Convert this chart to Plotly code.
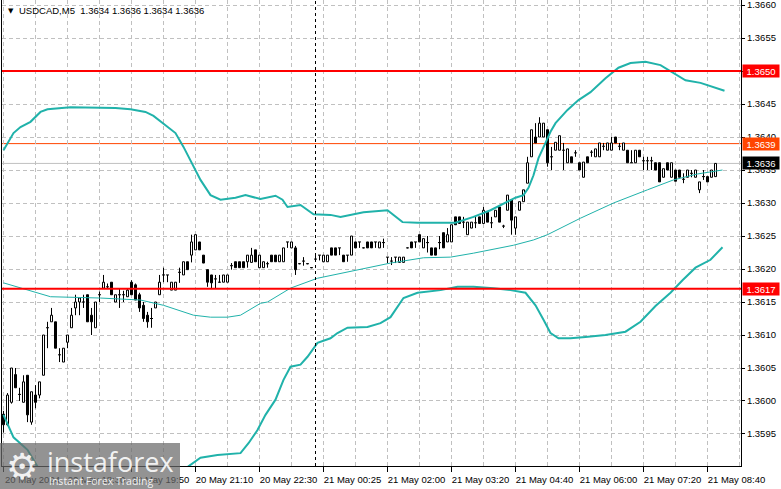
import plotly.graph_objects as go

# ---------------- data (prices expressed in pips above 1.3600) ----------------
BASE = 1.3600
PIP = 0.0001

open_pips = [
    -2.0, -3.6, -0.2, 4.0, 1.0, -0.2, 3.9, -3.2, 0.9, 0.9,
    3.9, 11.1, 12.0, 12.0, 7.0, 5.9, 8.9, 11.1, 14.1, 15.0,
    15.0, 16.1, 13.0, 11.1, 16.1, 17.1, 17.3, 18.0, 15.0, 16.1,
    16.1, 15.8, 18.0, 17.6, 16.1, 14.5, 13.0, 12.5, 14.1, 16.1,
    19.1, 19.1, 16.8, 16.8, 19.5, 19.1, 21.1, 22.1, 22.9, 24.1,
    22.1, 19.9, 19.1, 18.5, 18.0, 18.0, 18.0, 20.5, 21.1, 21.1,
    21.1, 21.1, 21.0, 22.9, 20.2, 20.2, 20.8, 22.1, 22.1, 21.1,
    21.1, 24.1, 23.2, 23.2, 20.8, 21.2, 20.8, 20.2, 21.5, 22.1,
    21.1, 21.1, 23.2, 23.2, 23.2, 22.1, 22.1, 22.1, 24.1, 24.1,
    23.2, 24.1, 24.1, 24.1, 23.2, 24.0, 21.8, 21.2, 21.8, 21.0,
    21.0, 23.2, 24.1, 24.1, 25.2, 23.2, 24.0, 23.2, 23.2, 24.0,
    25.5, 24.1, 24.1, 27.9, 27.9, 27.1, 25.2, 26.2, 27.0, 27.9,
    26.9, 28.6, 27.0, 27.9, 29.4, 26.5, 28.9, 30.5, 26.2, 28.9,
    30.2, 33.0, 37.0, 40.0, 40.0, 40.0, 41.1, 37.0, 38.0, 38.0,
    38.0, 36.1, 37.0, 37.6, 36.1, 33.9, 37.0, 37.7, 37.0, 37.0,
    38.6, 38.0, 38.0, 40.0, 38.6, 38.0, 38.0, 36.1, 36.1, 38.0,
    36.4, 36.4, 36.4, 36.1, 36.1, 33.9, 36.1, 33.9, 35.0, 35.0,
    33.6, 33.9, 34.5, 33.9, 32.0, 34.0, 34.0, 33.9, 34.0,
]
high_pips = [
    -1.5, 1.2, 5.0, 5.0, 2.0, 3.9, 3.9, 1.4, 2.4, 2.9,
    10.0, 12.0, 14.1, 12.0, 8.0, 8.0, 10.0, 14.1, 16.1, 15.6,
    16.1, 16.1, 14.1, 15.0, 16.6, 19.1, 17.8, 18.0, 16.1, 17.1,
    16.7, 17.1, 18.3, 17.8, 16.4, 15.0, 13.5, 14.1, 15.0, 19.1,
    20.2, 19.1, 18.0, 18.0, 20.2, 21.1, 21.1, 25.2, 25.2, 24.1,
    22.1, 19.9, 19.1, 19.1, 19.1, 19.1, 19.1, 20.9, 21.1, 21.1,
    21.1, 22.1, 23.2, 22.9, 22.1, 21.1, 21.1, 22.1, 22.1, 22.1,
    23.2, 24.1, 24.1, 23.5, 20.9, 21.8, 20.9, 20.3, 22.1, 22.1,
    22.1, 22.1, 23.2, 23.2, 23.2, 22.1, 22.1, 25.0, 24.1, 24.1,
    23.3, 24.1, 24.1, 24.1, 24.1, 24.6, 21.8, 21.8, 21.8, 21.8,
    21.8, 23.3, 24.1, 24.1, 25.2, 24.6, 25.0, 23.2, 23.2, 25.0,
    25.5, 26.2, 26.7, 27.9, 27.9, 27.9, 27.1, 27.1, 27.9, 27.9,
    29.4, 28.6, 27.9, 28.9, 29.4, 26.7, 31.2, 30.5, 27.9, 30.2,
    32.0, 37.0, 41.1, 42.1, 43.0, 42.1, 41.1, 38.5, 39.2, 40.2,
    39.1, 38.2, 37.0, 38.0, 36.1, 36.2, 37.0, 38.0, 38.2, 39.1,
    39.1, 39.1, 40.0, 40.0, 39.1, 39.1, 38.0, 38.0, 38.0, 38.0,
    37.0, 37.0, 37.0, 36.1, 36.1, 35.2, 36.1, 36.1, 35.0, 35.0,
    34.5, 35.0, 35.0, 35.0, 33.2, 35.0, 34.0, 35.0, 36.0,
]
low_pips = [
    -4.8, -3.8, -0.4, 2.0, 0.0, -0.2, -3.2, -3.6, -1.1, 0.4,
    3.9, 8.0, 12.0, 8.0, 5.9, 5.9, 8.0, 11.1, 13.0, 13.0,
    14.1, 12.0, 10.0, 11.1, 15.0, 17.1, 17.0, 16.1, 15.0, 14.1,
    15.0, 15.8, 16.1, 15.3, 13.5, 12.0, 11.1, 11.1, 14.1, 16.1,
    18.0, 18.0, 16.8, 16.8, 17.9, 19.1, 19.9, 21.0, 22.9, 22.9,
    20.9, 17.3, 17.1, 17.1, 17.9, 18.0, 18.0, 19.9, 20.2, 20.2,
    20.2, 20.2, 21.0, 21.1, 20.2, 20.2, 20.2, 21.1, 21.1, 21.1,
    21.1, 23.2, 23.2, 19.1, 20.7, 20.5, 20.7, 20.1, 21.1, 21.3,
    21.1, 21.1, 22.1, 22.1, 22.1, 21.1, 21.1, 22.1, 23.2, 23.2,
    23.1, 23.2, 23.2, 23.2, 23.2, 23.2, 20.9, 20.6, 20.9, 21.0,
    21.0, 23.1, 23.2, 23.2, 24.1, 23.2, 22.5, 22.1, 22.1, 23.0,
    23.2, 24.1, 24.1, 26.7, 26.9, 26.2, 25.2, 26.2, 26.2, 26.9,
    26.9, 27.1, 26.2, 27.9, 27.1, 26.2, 28.9, 25.2, 25.2, 28.9,
    30.2, 33.0, 37.0, 39.1, 40.0, 40.0, 35.5, 35.0, 38.0, 38.0,
    35.0, 36.1, 36.1, 37.0, 35.0, 33.9, 36.1, 37.0, 37.0, 37.0,
    38.0, 38.0, 38.0, 39.1, 38.0, 38.0, 36.1, 36.1, 36.1, 37.0,
    35.0, 35.0, 35.0, 35.0, 33.2, 33.9, 35.0, 33.9, 33.3, 33.9,
    33.0, 33.9, 33.9, 33.9, 31.5, 33.5, 33.2, 33.9, 34.0,
]
close_pips = [
    -3.6, 0.9, 5.0, 2.0, 1.0, 2.9, -2.1, 1.4, -0.2, 2.9,
    10.0, 11.1, 13.0, 8.0, 7.0, 8.0, 10.0, 13.0, 15.0, 15.6,
    15.0, 12.0, 12.0, 15.0, 16.1, 18.0, 17.3, 16.1, 16.1, 16.1,
    16.1, 16.8, 16.1, 15.3, 14.1, 12.5, 12.0, 12.5, 15.0, 18.0,
    19.1, 19.1, 18.0, 18.0, 19.5, 21.1, 19.9, 24.1, 25.2, 22.9,
    20.9, 18.0, 17.9, 18.5, 18.0, 19.1, 19.1, 20.5, 20.2, 20.2,
    20.2, 22.1, 22.1, 21.1, 22.1, 21.1, 20.8, 21.1, 21.1, 22.1,
    23.2, 24.1, 24.1, 19.9, 20.8, 21.2, 20.8, 20.2, 21.5, 22.1,
    22.1, 22.1, 22.1, 22.1, 23.2, 21.1, 22.1, 25.0, 23.2, 24.1,
    23.2, 23.2, 23.2, 24.1, 24.1, 24.0, 21.8, 21.2, 21.8, 21.8,
    21.8, 23.2, 23.2, 24.1, 24.1, 24.6, 24.0, 22.1, 22.1, 24.0,
    23.2, 25.2, 26.7, 26.7, 26.9, 27.1, 27.1, 27.1, 27.0, 26.9,
    28.9, 27.1, 27.0, 28.9, 27.1, 26.5, 31.2, 27.4, 27.9, 30.2,
    32.0, 36.1, 41.1, 39.1, 42.1, 42.1, 36.1, 37.0, 39.2, 40.2,
    38.0, 38.2, 36.1, 37.6, 35.0, 36.2, 36.1, 37.7, 38.2, 39.1,
    38.6, 39.1, 39.1, 39.1, 38.6, 39.1, 36.1, 36.1, 38.0, 37.0,
    36.4, 36.4, 36.4, 35.0, 33.2, 35.2, 35.0, 36.1, 33.3, 33.9,
    33.6, 35.0, 34.5, 35.0, 33.2, 34.0, 33.2, 35.0, 36.0,
]

# Bollinger upper band (bar index, pips)
upper_idx = [0, 2.5, 4.25, 6.75, 9.25, 11, 16.75, 24.25, 28, 31.75, 35.5, 37.5, 41, 43, 45,
             46.75, 49.25, 51.75, 54.25, 58, 60.5, 64.25, 68, 69.75, 71, 74.25, 77.5, 81.75,
             84.25, 90, 96, 99.75, 103.5, 113, 117.5, 121.75, 126, 128, 130, 131.25, 132.5,
             133.75, 135.5, 136.75, 138, 141, 143.75, 146.75, 150.5, 153.75, 156.75, 160.5,
             164.25, 167.25, 170.5, 174.25, 178, 180.25]
upper_pips = [38.0, 40.6, 41.5, 42.3, 43.8, 44.2, 44.5, 44.5, 44.4, 44.2, 43.8, 43.2, 41.5, 40.6,
              38.5, 36.5, 33.5, 31.2, 30.5, 30.8, 31.2, 30.6, 31.1, 30.5, 29.4, 29.7, 28.3, 28.2,
              27.9, 28.6, 28.9, 27.1, 27.0, 27.0, 27.9, 28.9, 30.2, 30.8, 31.2, 32.3, 34.2,
              36.8, 39.1, 40.8, 42.1, 44.1, 45.6, 46.8, 48.9, 50.5, 51.2, 51.4,
              50.9, 49.8, 48.6, 48.2, 47.4, 47.0]

# Bollinger lower band (bar index, pips)
lower_idx = [0, 2.5, 6, 8.5, 12, 18, 28, 38, 44, 46, 49.25, 53.5, 59.25, 61.25, 63.5, 65.5, 68,
             70, 71.75, 74.25, 76, 78.5, 81.75, 83.5, 86, 91, 94.25, 96.75, 98.5, 100, 103.5,
             109.25, 113.5, 117.5, 122.5, 126.75, 130.5, 133, 135, 136.75, 138.75, 141.75,
             145.5, 150.5, 155.5, 159.25, 163, 166.75, 169.75, 173, 176.75, 179.75]
lower_pips = [-2.1, -5.5, -7.4, -10.0, -13.5, -17.0, -19.0, -17.0, -13.0, -10.0, -8.6, -8.2, -7.9,
              -6.4, -4.4, -2.1, 0.2, 3.2, 5.2, 5.5, 6.7, 8.8, 9.5, 10.3, 11.1, 11.2, 11.8, 12.7,
              14.2, 15.6, 16.4, 16.8, 17.3, 17.3, 17.1, 16.8, 16.4, 14.5, 12.3, 10.3, 9.5, 9.5,
              9.7, 10.0, 10.5, 12.0, 14.4, 16.4, 18.3, 20.2, 21.4, 23.3]

# middle line (thin)
mid_idx = [0, 3.5, 7.5, 11.75, 24.25, 34.25, 40, 47.5, 51.75, 56, 59.25, 64.25, 66, 71.75, 78.5,
           88.5, 96.75, 105, 111.75, 117.5, 124.25, 127.5, 132.5, 136, 144.25, 152.5, 161,
           167.5, 173.5, 179.75]
mid_pips = [17.9, 17.3, 16.5, 15.8, 15.6, 15.3, 14.5, 13.0, 12.7, 12.7, 13.0, 14.8, 15.0, 17.1,
            18.6, 19.8, 20.9, 21.7, 21.8, 22.4, 23.2, 23.6, 24.4, 25.2, 27.7, 30.0, 32.0, 33.5,
            34.4, 35.0]

tick_idx = [0, 16, 32, 48, 64, 80, 96, 112, 128, 144, 160, 176]
tick_text = ["20 May 2024", "20 May 18:30", "20 May 19:50", "20 May 21:10", "20 May 22:30",
             "21 May 00:25", "21 May 02:00", "21 May 03:20", "21 May 04:40", "21 May 06:00",
             "21 May 07:20", "21 May 08:40"]
grid_idx = [8 + 16 * k for k in range(12)]
y_ticks = [1.3595, 1.3600, 1.3605, 1.3610, 1.3615, 1.3620, 1.3625, 1.3630, 1.3635, 1.3640,
           1.3645, 1.3650, 1.3655, 1.3660]

separator_idx = 78
red_levels = [1.3650, 1.3617]
orange_level = 1.3639
bid_level = 1.3636
header = "USDCAD,M5  1.3634 1.3636 1.3634 1.3636"

# ---------------- build ----------------
def px(p):
    return BASE + p * PIP

O = [px(v) for v in open_pips]
H = [px(v) for v in high_pips]
L = [px(v) for v in low_pips]
C = [px(v) for v in close_pips]
idx = list(range(len(O)))

body_x, body_base, body_h, body_col = [], [], [], []
doji_x, doji_y = [], []
wick_x, wick_y = [], []
for i in idx:
    top, bot = max(O[i], C[i]), min(O[i], C[i])
    if abs(C[i] - O[i]) < 1e-9:
        doji_x += [i - 0.375, i + 0.375, None]
        doji_y += [O[i], O[i], None]
    else:
        body_x.append(i)
        body_base.append(bot)
        body_h.append(top - bot)
        body_col.append("white" if C[i] > O[i] else "black")
    if H[i] > top + 1e-9:
        wick_x += [i, i, None]
        wick_y += [top, H[i], None]
    if L[i] < bot - 1e-9:
        wick_x += [i, i, None]
        wick_y += [bot, L[i], None]

TEAL = "#20b2aa"
FONT = "Liberation Sans"
fig = go.Figure()
fig.add_trace(go.Bar(x=body_x, y=body_h, base=body_base, width=0.5,
                     marker=dict(color=body_col, line=dict(color="black", width=1)),
                     hoverinfo="skip"))
fig.add_trace(go.Scatter(x=wick_x, y=wick_y, mode="lines",
                         line=dict(color="black", width=1), hoverinfo="skip"))
fig.add_trace(go.Scatter(x=doji_x, y=doji_y, mode="lines",
                         line=dict(color="black", width=1), hoverinfo="skip"))
fig.add_trace(go.Scatter(x=mid_idx, y=[px(v) for v in mid_pips], mode="lines",
                         line=dict(color=TEAL, width=1), hoverinfo="skip"))
fig.add_trace(go.Scatter(x=upper_idx, y=[px(v) for v in upper_pips], mode="lines",
                         line=dict(color=TEAL, width=2), hoverinfo="skip"))
fig.add_trace(go.Scatter(x=lower_idx, y=[px(v) for v in lower_pips], mode="lines",
                         line=dict(color=TEAL, width=2), hoverinfo="skip"))

W, Hh = 781, 489
ML, MR, MT, MB = 2, 40, 0, 23
PW, PH = W - ML - MR, Hh - MT - MB

def xp(p):
    return (p - ML) / PW

def yp(p):
    return (PH + MT - p) / PH

shapes = []
shapes.append(dict(type="line", xref="paper", yref="y", x0=0, x1=1, y0=bid_level, y1=bid_level,
                   line=dict(color="#c0c0c0", width=1), layer="below"))
shapes.append(dict(type="line", xref="paper", yref="y", x0=0, x1=1, y0=orange_level,
                   y1=orange_level, line=dict(color="#ff4500", width=1), layer="below"))
for lv in red_levels:
    shapes.append(dict(type="line", xref="paper", yref="y", x0=0, x1=1, y0=lv, y1=lv,
                       line=dict(color="#ff0000", width=2), layer="above"))
shapes.append(dict(type="line", xref="x", yref="paper", x0=separator_idx, x1=separator_idx,
                   y0=0, y1=1, line=dict(color="black", width=1, dash="3px,3px"), layer="above"))
# watermark box
shapes.append(dict(type="rect", xref="paper", yref="paper", x0=xp(0), x1=xp(180),
                   y0=yp(489), y1=yp(443), fillcolor="rgba(105,105,105,0.72)",
                   line=dict(width=0), layer="above"))

annotations = []
for val, col in [(red_levels[0], "#ff0000"), (orange_level, "#ff4500"),
                 (bid_level, "#000000"), (red_levels[1], "#ff0000")]:
    annotations.append(dict(xref="paper", yref="y", x=1, y=val, xanchor="left", yanchor="middle",
                            xshift=1, text=f"{val:.4f}", showarrow=False, bgcolor=col,
                            font=dict(family=FONT, size=9.5, color="white"),
                            width=34, height=10, borderpad=1, align="center"))
annotations.append(dict(xref="paper", yref="paper", x=xp(6), y=1, xanchor="left", yanchor="top",
                        yshift=-5, text="▼", showarrow=False,
                        font=dict(family="DejaVu Sans", size=7, color="black")))
annotations.append(dict(xref="paper", yref="paper", x=xp(17), y=1, xanchor="left", yanchor="top",
                        yshift=-3, text=header, showarrow=False,
                        font=dict(family=FONT, size=9.5, color="black")))
annotations.append(dict(xref="paper", yref="paper", x=xp(22), y=yp(466), xanchor="center",
                        yanchor="middle", text="⚙", showarrow=False,
                        font=dict(family="DejaVu Sans", size=36, color="rgba(255,255,255,0.9)")))
annotations.append(dict(xref="paper", yref="paper", x=xp(45), y=yp(461), xanchor="left",
                        yanchor="middle", text="instaforex", showarrow=False,
                        font=dict(family="Open Sans", size=27, color="rgba(255,255,255,0.9)")))
annotations.append(dict(xref="paper", yref="paper", x=xp(47), y=yp(481), xanchor="left",
                        yanchor="middle", text="Instant Forex Trading", showarrow=False,
                        font=dict(family="Open Sans", size=10.5, color="rgba(255,255,255,0.9)")))

GRID = "#c0c0c0"
fig.update_layout(
    width=W, height=Hh, margin=dict(l=ML, r=MR, t=MT, b=MB),
    paper_bgcolor="white", plot_bgcolor="white", showlegend=False,
    barmode="overlay", shapes=shapes, annotations=annotations,
    xaxis=dict(range=[-0.375, 184.375], tickmode="array", tickvals=tick_idx, ticktext=tick_text,
               ticks="outside", ticklen=5, tickcolor="black", showline=True, linecolor="black",
               linewidth=1, showgrid=True, gridcolor=GRID, griddash="4px,3px", gridwidth=1,
               zeroline=False, automargin=False, ticklabelshift=29,
               tickfont=dict(family=FONT, size=9.5, color="black"),
               minor=dict(tickmode="array", tickvals=grid_idx, showgrid=True, gridcolor=GRID,
                          griddash="4px,3px", gridwidth=1, ticks="")),
    yaxis=dict(range=[1.359015, 1.366076], side="right", tickmode="array", tickvals=y_ticks,
               tickformat=".4f", ticks="outside", ticklen=3, tickcolor="black", showline=True,
               mirror=True, linecolor="black", linewidth=1, showgrid=True, gridcolor=GRID,
               griddash="4px,3px", gridwidth=1, zeroline=False, automargin=False,
               ticklabeloverflow="allow",
               tickfont=dict(family=FONT, size=9.5, color="black")),
)
fig.write_html("out.html")
